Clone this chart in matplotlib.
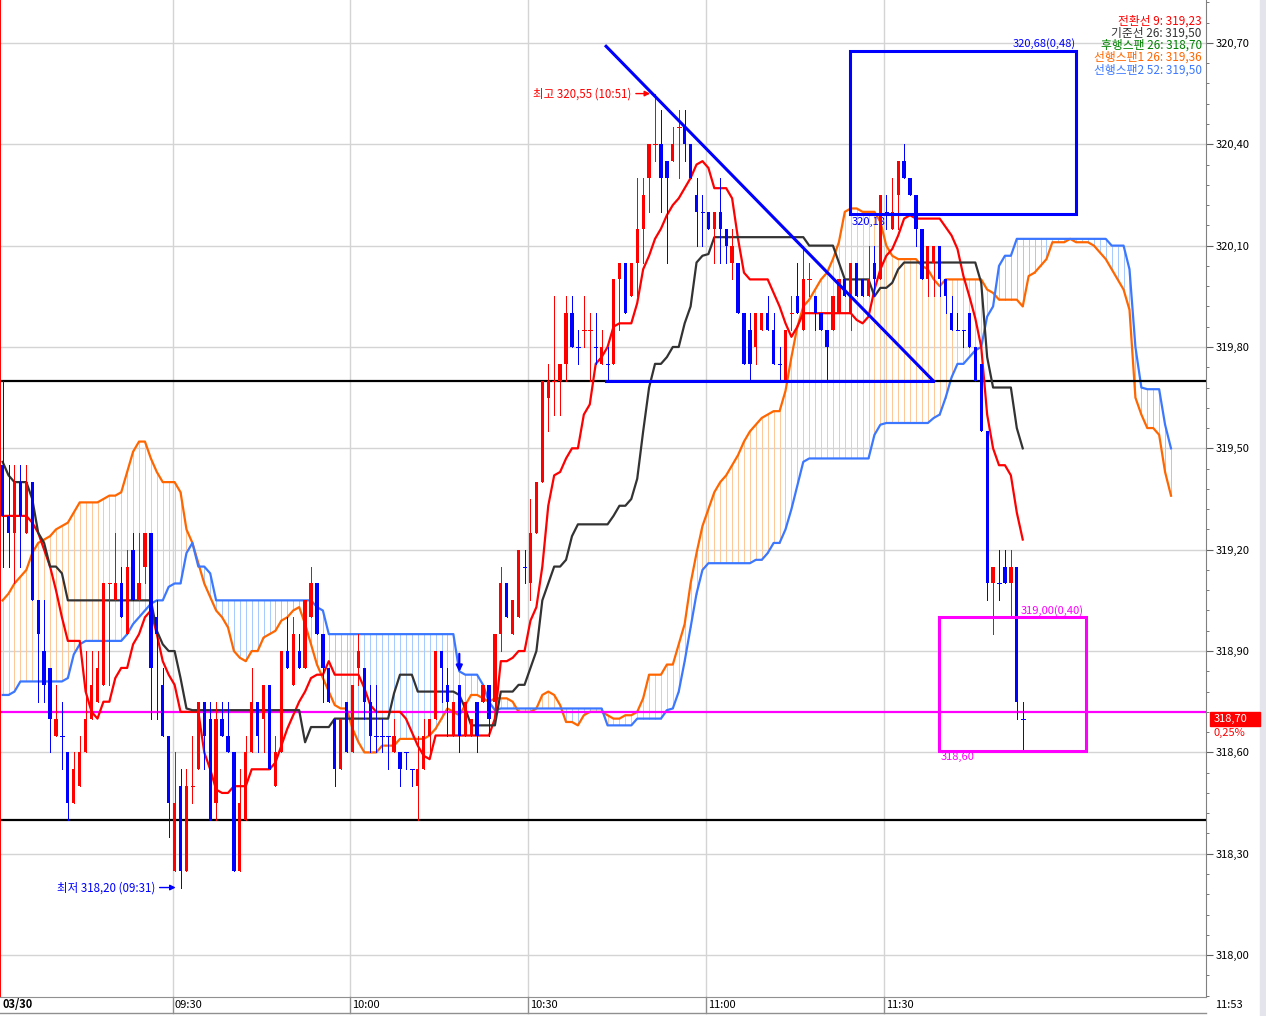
import numpy as np
import matplotlib
matplotlib.use("Agg")
import matplotlib.pyplot as plt
from matplotlib.patches import Rectangle
from matplotlib.lines import Line2D
from matplotlib.ticker import FixedLocator, FuncFormatter

plt.rcParams['font.family'] = ['Noto Sans CJK KR', 'DejaVu Sans']

# 1-minute bars, first bar 09:01, last bar 11:53
start_minute = 9 * 60 + 1

opens = [
    319.45, 319.30, 319.25, 319.40, 319.25, 319.40, 319.05, 318.90, 318.85, 318.65,
    318.65, 318.60, 318.45, 318.50, 318.60, 318.70, 318.75, 318.80, 319.10, 319.05,
    319.10, 318.95, 319.20, 319.05, 319.15, 319.25, 319.00, 318.80, 318.65, 318.25,
    318.50, 318.25, 318.50, 318.55, 318.75, 318.70, 318.45, 318.70, 318.65, 318.60,
    318.25, 318.40, 318.60, 318.75, 318.70, 318.80, 318.50, 318.60, 318.90, 318.80,
    318.90, 318.85, 319.00, 319.10, 318.95, 318.85, 318.70, 318.55, 318.75, 318.60,
    318.85, 318.85, 318.75, 318.65, 318.65, 318.65, 318.60, 318.60, 318.60, 318.55,
    318.50, 318.55, 318.65, 318.70, 318.90, 318.80, 318.65, 318.80, 318.65, 318.65,
    318.75, 318.75, 318.80, 318.75, 318.95, 319.10, 318.95, 319.00, 319.15, 319.10,
    319.25, 319.40, 319.65, 319.70, 319.70, 319.75, 319.90, 319.80, 319.85, 319.85,
    319.80, 319.75, 319.75, 319.75, 320.00, 320.05, 319.95, 320.05, 320.15, 320.30,
    320.40, 320.40, 320.35, 320.35, 320.45, 320.45, 320.40, 320.25, 320.20, 320.20,
    320.15, 320.20, 320.15, 320.05, 320.05, 319.90, 319.85, 319.80, 319.85, 319.90,
    319.85, 319.75, 319.70, 319.90, 319.95, 319.85, 320.00, 319.95, 319.90, 319.85,
    319.85, 319.90, 320.00, 319.90, 320.05, 320.00, 319.95, 320.05, 320.00, 320.20,
    320.15, 320.25, 320.35, 320.30, 320.25, 320.15, 320.00, 320.05, 320.10, 320.00,
    319.90, 319.85, 319.85, 319.90, 319.80, 319.75, 319.55, 319.10, 319.10, 319.15,
    319.10, 319.15, 318.70]
highs = [
    319.70, 319.45, 319.45, 319.45, 319.45, 319.40, 319.05, 319.05, 318.85, 318.80,
    318.75, 318.60, 318.60, 318.65, 318.90, 318.90, 318.90, 319.10, 319.10, 319.25,
    319.15, 319.20, 319.25, 319.25, 319.25, 319.25, 319.05, 318.85, 318.65, 318.60,
    318.55, 318.55, 318.65, 318.75, 318.75, 318.75, 318.75, 318.75, 318.75, 318.60,
    318.55, 318.65, 318.85, 318.75, 318.80, 318.80, 318.65, 318.90, 319.00, 319.00,
    318.95, 319.05, 319.15, 319.10, 318.95, 318.85, 318.70, 318.70, 318.75, 318.80,
    318.95, 318.85, 318.80, 318.80, 318.70, 318.65, 318.70, 318.60, 318.60, 318.55,
    318.65, 318.70, 318.70, 318.90, 318.90, 318.85, 318.75, 318.80, 318.75, 318.70,
    318.75, 318.80, 318.80, 318.95, 319.15, 319.10, 319.05, 319.20, 319.20, 319.35,
    319.40, 319.70, 319.75, 319.95, 319.75, 319.95, 319.95, 319.85, 319.95, 319.90,
    319.90, 319.85, 319.80, 320.00, 320.05, 320.05, 320.05, 320.30, 320.30, 320.40,
    320.55, 320.50, 320.35, 320.45, 320.50, 320.50, 320.40, 320.30, 320.25, 320.20,
    320.20, 320.30, 320.15, 320.15, 320.05, 319.90, 319.90, 319.90, 319.90, 319.95,
    319.90, 319.80, 319.85, 319.95, 320.05, 320.10, 320.05, 319.95, 319.90, 319.85,
    319.95, 320.00, 320.00, 320.05, 320.05, 320.00, 320.10, 320.10, 320.25, 320.25,
    320.30, 320.35, 320.40, 320.30, 320.25, 320.15, 320.10, 320.10, 320.10, 320.00,
    319.95, 319.90, 319.85, 319.90, 319.80, 319.75, 319.55, 319.15, 319.20, 319.20,
    319.20, 319.15, 318.75]
lows = [
    319.15, 319.15, 319.10, 319.15, 319.25, 319.05, 318.75, 318.75, 318.60, 318.65,
    318.55, 318.40, 318.45, 318.50, 318.60, 318.70, 318.75, 318.80, 318.80, 319.05,
    319.00, 318.95, 319.05, 319.05, 319.10, 318.70, 318.70, 318.65, 318.35, 318.25,
    318.20, 318.25, 318.45, 318.55, 318.55, 318.40, 318.40, 318.65, 318.60, 318.25,
    318.25, 318.40, 318.60, 318.60, 318.60, 318.55, 318.50, 318.60, 318.85, 318.80,
    318.85, 318.85, 319.00, 318.95, 318.75, 318.75, 318.50, 318.55, 318.60, 318.60,
    318.80, 318.70, 318.60, 318.60, 318.60, 318.55, 318.60, 318.50, 318.55, 318.50,
    318.40, 318.55, 318.60, 318.70, 318.75, 318.65, 318.65, 318.60, 318.65, 318.65,
    318.60, 318.75, 318.65, 318.70, 318.90, 319.00, 318.95, 319.00, 319.10, 319.05,
    319.25, 319.40, 319.55, 319.60, 319.60, 319.70, 319.80, 319.75, 319.80, 319.70,
    319.75, 319.75, 319.70, 319.75, 319.85, 319.90, 319.95, 319.95, 320.05, 320.20,
    320.35, 320.20, 320.05, 320.35, 320.30, 320.35, 320.30, 320.10, 320.10, 320.15,
    320.05, 320.05, 320.05, 320.00, 319.90, 319.75, 319.70, 319.75, 319.85, 319.85,
    319.75, 319.70, 319.70, 319.85, 319.90, 319.85, 319.95, 319.85, 319.85, 319.70,
    319.85, 319.90, 319.95, 319.85, 319.95, 319.95, 319.95, 319.95, 320.00, 320.15,
    320.15, 320.15, 320.30, 320.25, 320.10, 320.00, 319.95, 319.95, 319.95, 319.90,
    319.85, 319.85, 319.80, 319.80, 319.70, 319.55, 319.05, 318.95, 319.05, 319.10,
    319.00, 318.70, 318.60]
closes = [
    319.30, 319.25, 319.40, 319.30, 319.40, 319.05, 318.95, 318.80, 318.70, 318.70,
    318.65, 318.45, 318.55, 318.60, 318.70, 318.80, 318.85, 319.10, 319.10, 319.10,
    319.00, 319.15, 319.05, 319.10, 319.25, 318.85, 318.95, 318.65, 318.45, 318.45,
    318.25, 318.50, 318.50, 318.75, 318.65, 318.40, 318.70, 318.65, 318.60, 318.25,
    318.45, 318.60, 318.75, 318.65, 318.80, 318.55, 318.60, 318.90, 318.85, 318.95,
    318.85, 319.05, 319.10, 318.95, 318.85, 318.75, 318.55, 318.70, 318.60, 318.80,
    318.90, 318.75, 318.65, 318.65, 318.65, 318.65, 318.65, 318.55, 318.60, 318.55,
    318.55, 318.65, 318.70, 318.90, 318.85, 318.75, 318.75, 318.65, 318.75, 318.70,
    318.65, 318.80, 318.70, 318.95, 319.10, 319.00, 319.05, 319.20, 319.15, 319.25,
    319.40, 319.70, 319.70, 319.70, 319.75, 319.90, 319.80, 319.80, 319.85, 319.85,
    319.80, 319.80, 319.75, 320.00, 320.05, 319.90, 320.05, 320.15, 320.25, 320.40,
    320.40, 320.30, 320.30, 320.40, 320.45, 320.40, 320.30, 320.20, 320.20, 320.15,
    320.20, 320.15, 320.10, 320.10, 319.90, 319.75, 319.75, 319.90, 319.90, 319.85,
    319.75, 319.75, 319.85, 319.90, 319.90, 320.00, 320.00, 319.90, 319.85, 319.80,
    319.95, 320.00, 319.95, 320.05, 319.95, 319.95, 320.00, 320.00, 320.25, 320.20,
    320.20, 320.35, 320.30, 320.25, 320.15, 320.00, 320.10, 320.10, 320.00, 319.95,
    319.85, 319.85, 319.85, 319.80, 319.70, 319.55, 319.10, 319.15, 319.10, 319.10,
    319.15, 318.75, 318.70]
# unchanged-price bars that are drawn red
doji_red = [18, 32, 93, 98, 99, 110, 114, 133, 136]

# 전환선 (conversion line)
tenkan = [
    319.30, 319.30, 319.30, 319.30, 319.30, 319.28, 319.25, 319.20, 319.15, 319.08,
    319.00, 318.93, 318.93, 318.93, 318.78, 318.72, 318.70, 318.75, 318.75, 318.82,
    318.85, 318.85, 318.92, 318.95, 319.00, 319.02, 318.95, 318.87, 318.83, 318.80,
    318.72, 318.72, 318.72, 318.72, 318.60, 318.55, 318.49, 318.48, 318.48, 318.50,
    318.50, 318.50, 318.55, 318.55, 318.55, 318.55, 318.57, 318.62, 318.67, 318.71,
    318.75, 318.78, 318.82, 318.83, 318.83, 318.87, 318.83, 318.83, 318.83, 318.83,
    318.83, 318.79, 318.74, 318.72, 318.72, 318.72, 318.72, 318.72, 318.70, 318.66,
    318.62, 318.59, 318.58, 318.65, 318.65, 318.65, 318.65, 318.65, 318.65, 318.65,
    318.65, 318.65, 318.65, 318.70, 318.87, 318.87, 318.88, 318.90, 318.90, 318.99,
    319.03, 319.15, 319.33, 319.42, 319.43, 319.47, 319.50, 319.50, 319.60, 319.63,
    319.75, 319.77, 319.80, 319.86, 319.87, 319.87, 319.87, 319.93, 320.03, 320.07,
    320.12, 320.15, 320.19, 320.22, 320.24, 320.27, 320.30, 320.34, 320.35, 320.33,
    320.27, 320.27, 320.27, 320.24, 320.12, 320.02, 320.00, 320.00, 320.00, 320.00,
    319.96, 319.92, 319.87, 319.83, 319.86, 319.90, 319.90, 319.90, 319.90, 319.90,
    319.90, 319.90, 319.90, 319.90, 319.88, 319.87, 319.89, 319.97, 320.03, 320.07,
    320.09, 320.13, 320.18, 320.19, 320.18, 320.18, 320.18, 320.18, 320.18, 320.155,
    320.13, 320.09, 320.01, 319.95, 319.885, 319.80, 319.60, 319.50, 319.45, 319.45,
    319.42, 319.31, 319.23]

# 기준선 (base line)
kijun = ([319.46, 319.42, 319.40, 319.40, 319.40, 319.35, 319.25, 319.22, 319.15, 319.15,
          319.13] + [319.05] * 15
         + [318.96, 318.92, 318.90, 318.90, 318.82, 318.73] + [318.725] * 19
         + [318.63] + [318.675] * 4 + [318.70] * 10 + [318.775] + [318.83] * 3
         + [318.78] * 7 + [318.77, 318.73] + [318.68] * 5 + [318.78] * 3 + [318.80] * 2
         + [318.85, 318.90, 319.05, 319.10, 319.15, 319.15, 319.17, 319.24] + [319.275] * 6
         + [319.30, 319.33, 319.33, 319.35, 319.41, 319.55, 319.68, 319.75, 319.75, 319.77,
            319.80, 319.80, 319.87, 319.92, 320.05, 320.07, 320.075] + [320.125] * 16
         + [320.10] * 5 + [320.05] + [320.00] * 5 + [319.95, 319.975, 319.975, 319.99, 320.03]
         + [320.05] * 13 + [319.99, 319.77] + [319.68] * 4 + [319.56, 319.50])

# 선행스팬1 / 선행스팬2, already shifted forward (index 0 = first bar on screen)
span1 = [
    319.05, 319.07, 319.10, 319.12, 319.14, 319.19, 319.22, 319.23, 319.24, 319.26,
    319.27, 319.28, 319.31, 319.34, 319.34, 319.34, 319.34, 319.35, 319.36, 319.36,
    319.37, 319.43, 319.49, 319.52, 319.52, 319.47, 319.43, 319.40, 319.40, 319.40,
    319.37, 319.26, 319.22, 319.16, 319.10, 319.06, 319.02, 319.00, 318.97, 318.90,
    318.88, 318.87, 318.90, 318.90, 318.94, 318.95, 318.96, 318.99, 319.00, 319.02,
    319.03, 318.98, 318.92, 318.86, 318.82, 318.78, 318.74, 318.73, 318.73, 318.67,
    318.63, 318.60, 318.60, 318.60, 318.62, 318.62, 318.62, 318.64, 318.64, 318.64,
    318.64, 318.64, 318.65, 318.67, 318.70, 318.73, 318.72, 318.71, 318.74, 318.77,
    318.77, 318.76, 318.75, 318.76, 318.76, 318.76, 318.75, 318.72, 318.72, 318.72,
    318.73, 318.77, 318.78, 318.77, 318.74, 318.69, 318.69, 318.68, 318.71, 318.72,
    318.72, 318.72, 318.71, 318.70, 318.70, 318.71, 318.71, 318.72, 318.76, 318.83,
    318.83, 318.83, 318.86, 318.86, 318.92, 318.98, 319.10, 319.19, 319.27, 319.32,
    319.37, 319.40, 319.42, 319.45, 319.48, 319.52, 319.55, 319.57, 319.59, 319.60,
    319.61, 319.61, 319.67, 319.77, 319.86, 319.92, 319.94, 319.97, 320.00, 320.02,
    320.06, 320.11, 320.20, 320.21, 320.21, 320.20, 320.20, 320.20, 320.17, 320.10,
    320.07, 320.06, 320.06, 320.06, 320.06, 320.04, 320.03, 320.00, 319.98, 320.00,
    320.00, 320.00, 320.00, 320.00, 320.00, 320.00, 319.97, 319.96, 319.94, 319.94,
    319.94, 319.94, 319.92, 320.01, 320.02, 320.04, 320.06, 320.11, 320.11, 320.11,
    320.12, 320.11, 320.11, 320.11, 320.10, 320.08, 320.06, 320.03, 320.00, 319.97,
    319.91, 319.65, 319.60, 319.56, 319.56, 319.54, 319.43, 319.36]
span2 = ([318.77, 318.77, 318.78] + [318.81] * 8 + [318.82, 318.89, 318.92] + [318.93] * 7
         + [318.95, 318.98, 319.00, 319.02, 319.04, 319.05, 319.05, 319.09, 319.10, 319.10,
            319.19, 319.22, 319.15, 319.15, 319.13] + [319.05] * 17 + [319.03, 319.02]
         + [318.95] * 22 + [318.84, 318.83, 318.83, 318.83, 318.80, 318.75, 318.725]
         + [318.73] * 18 + [318.68] * 5 + [318.70] * 5
         + [318.725, 318.73, 318.78, 318.87, 318.97, 319.07, 319.14] + [319.16] * 8
         + [319.17, 319.17, 319.19, 319.22, 319.22, 319.26, 319.32, 319.39, 319.46]
         + [319.47] * 11 + [319.54, 319.57] + [319.575] * 8
         + [319.59, 319.60, 319.65, 319.71, 319.75, 319.75, 319.77, 319.79, 319.80, 319.89,
            319.92, 320.04, 320.07, 320.07] + [320.12] * 16 + [320.10] * 3
         + [320.03, 319.80, 319.68] + [319.675] * 3 + [319.57, 319.50])

legend_labels = ["전환선 9: 319,23", "기준선 26: 319,50", "후행스팬 26: 318,70",
                 "선행스팬1 26: 319,36", "선행스팬2 52: 319,50"]
legend_colors = ["#FF0000", "#333333", "#008000", "#FF6600", "#3C78FF"]

grid_times = ["09:30", "10:00", "10:30", "11:00", "11:30"]
last_time = "11:53"
h_levels = [319.70, 318.40]
pink_level = 318.72
last_price = 318.70

# user drawings (bar position, price)
trend_line = [(101.75, 320.69), (156.9, 319.70)]
blue_box = (142.9, 320.195, 181.0, 320.675)
pink_box = (157.9, 318.605, 182.7, 319.00)


def bar_at(hhmm):
    h, m = map(int, hhmm.split(':'))
    return h * 60 + m - start_minute


def price_fmt(v, pos=None):
    return f"{v:.2f}".replace('.', ',')


RED = "#FF0000"
BLUE = "#0000FF"

fig = plt.figure(figsize=(12.66, 10.16), dpi=100)
ax = fig.add_axes([0, 19 / 1016, 1206 / 1266, 997 / 1016])
ax.set_xlim(-0.44, 202.9)
ax.set_ylim(317.876, 320.827)

# grid
price_ticks = np.round(np.arange(318.0, 320.71, 0.3), 2)
grid_x = [bar_at(t) - 0.35 for t in grid_times]
for p in price_ticks:
    ax.axhline(p, color="#D4D4D4", lw=1, zorder=0)
for gx in grid_x:
    ax.axvline(gx, color="#D4D4D4", lw=1, zorder=0)

# cloud hatch + spans
s1 = np.array(span1)
s2 = np.array(span2)
sx = np.arange(len(s1))
hatch_colors = np.where(s1 >= s2, "#FFC899", "#A6CCFF")
ax.vlines(sx, np.minimum(s1, s2), np.maximum(s1, s2), colors=hatch_colors, lw=0.6,
          antialiased=False, zorder=1)
ax.plot(sx, s1, color="#FF6600", lw=1.6, zorder=2)
ax.plot(np.arange(len(s2)), s2, color="#3C78FF", lw=1.6, zorder=2)

# horizontal reference lines
for lv in h_levels:
    ax.axhline(lv, color="black", lw=1.6, zorder=2.6)
ax.axhline(pink_level, color="#FF00FF", lw=1.6, zorder=2.6)

# conversion / base lines
ax.plot(np.arange(len(tenkan)), tenkan, color=RED, lw=1.6, zorder=2.8)
ax.plot(np.arange(len(kijun)), kijun, color="#333333", lw=1.6, zorder=2.8)

# candles
o = np.array(opens)
h = np.array(highs)
l = np.array(lows)
c = np.array(closes)
idx = np.arange(len(o))
flat = np.isclose(o, c)
cols = np.where(c > o, RED, BLUE).astype(object)
for i in np.where(flat)[0]:
    cols[i] = RED if i in doji_red else BLUE
ax.vlines(idx, l, h, colors=list(cols), lw=0.6, antialiased=False, zorder=3)
body = ~flat
ax.bar(idx[body], np.abs(c - o)[body], bottom=np.minimum(o, c)[body], width=0.55,
       color=list(cols[body]), linewidth=0, zorder=3)
ax.hlines(c[flat], idx[flat] - 0.3, idx[flat] + 0.3, colors=list(cols[flat]), lw=0.6,
          antialiased=False, zorder=3)

# drawings
(tx0, ty0), (tx1, ty1) = trend_line
ax.plot([tx0, tx1], [ty0, ty1], color=BLUE, lw=2.2, zorder=5)
ax.plot([tx0, tx1], [ty1, ty1], color=BLUE, lw=2.2, zorder=5)
bx0, by0, bx1, by1 = blue_box
ax.add_patch(Rectangle((bx0, by0), bx1 - bx0, by1 - by0, fill=False, ec=BLUE, lw=2.2, zorder=5))
ax.text(bx1, by1 + 0.022, "320,68(0,48)", color=BLUE, fontsize=8, ha="right", va="center", zorder=5)
ax.text(bx0 + 0.3, by0 - 0.025, "320,18", color=BLUE, fontsize=8, ha="left", va="center", zorder=2.9)
px0, py0, px1, py1 = pink_box
ax.add_patch(Rectangle((px0, py0), px1 - px0, py1 - py0, fill=False, ec="#FF00FF", lw=2.2, zorder=5))
ax.text(171.6, py1 + 0.02, "319,00(0,40)", color="#FF00FF", fontsize=8, ha="left", va="center", zorder=5)
ax.text(px0 + 0.3, py0 - 0.02, "318,60", color="#FF00FF", fontsize=8, ha="left", va="center", zorder=5)

# high / low markers
hi_i = int(np.argmax(h))
lo_i = int(np.argmin(l))
ax.text(hi_i - 4.0, h[hi_i], "최고 320,55 (10:51)", color=RED, fontsize=8.3, ha="right", va="center", zorder=5)
ax.annotate("", xy=(hi_i - 0.35, h[hi_i]), xytext=(hi_i - 3.7, h[hi_i]),
            arrowprops=dict(arrowstyle="-|>", color=RED, lw=1, mutation_scale=8), zorder=5)
ax.text(lo_i - 4.3, l[lo_i], "최저 318,20 (09:31)", color=BLUE, fontsize=8.3, ha="right", va="center", zorder=5)
ax.annotate("", xy=(lo_i - 0.35, l[lo_i]), xytext=(lo_i - 4.0, l[lo_i]),
            arrowprops=dict(arrowstyle="-|>", color=BLUE, lw=1, mutation_scale=8), zorder=5)
# signal arrow
ax.annotate("", xy=(77, 318.83), xytext=(77, 318.90),
            arrowprops=dict(arrowstyle="-|>", color=BLUE, lw=1.6, mutation_scale=9), zorder=5)

# day separator
ax.axvline(-0.38, color=RED, lw=1.4, zorder=5)

# legend text
for k, (lab, col) in enumerate(zip(legend_labels, legend_colors)):
    ax.text(0.9965, 1 - (21 + 12.2 * k) / 997, lab, color=col, fontsize=8.5,
            ha="right", va="center", transform=ax.transAxes, zorder=6)

# axes styling
for side in ["top", "left"]:
    ax.spines[side].set_visible(False)
ax.spines["right"].set_color("#808080")
ax.spines["bottom"].set_color("#909090")
ax.yaxis.tick_right()
ax.yaxis.set_major_locator(FixedLocator(price_ticks))
ax.yaxis.set_minor_locator(FixedLocator(np.round(np.arange(317.88, 320.83, 0.06), 2)))
ax.yaxis.set_major_formatter(FuncFormatter(price_fmt))
ax.tick_params(axis="y", which="major", length=5, color="#606060", labelsize=8, pad=2)
ax.tick_params(axis="y", which="minor", length=2.5, color="#606060")
ax.set_xticks([])

# current price tag
ytr = ax.get_yaxis_transform()
ax.add_patch(Rectangle((1.0035, last_price - 0.021), 0.0415, 0.042, transform=ytr,
                       color=RED, clip_on=False, zorder=6))
ax.text(1.006, last_price, price_fmt(last_price), transform=ytr, color="white",
        fontsize=8, ha="left", va="center", zorder=7)
ax.text(1.006, last_price - 0.042, "0,25%", transform=ytr, color=RED,
        fontsize=8, ha="left", va="center", zorder=7)

# time strip
xtr = ax.get_xaxis_transform()
strip_y = -8 / 997
ax.text(0.0, strip_y, "03/30", transform=xtr, fontsize=8, fontweight="bold",
        ha="left", va="center", clip_on=False)
for gx, t in zip(grid_x, grid_times):
    ax.plot([gx, gx], [0, -16 / 997], transform=xtr, color="#909090", lw=1, clip_on=False)
    ax.text(gx + 0.25, strip_y, t, transform=xtr, fontsize=8, ha="left", va="center", clip_on=False)
fig.add_artist(Line2D([0, 1206 / 1266], [3 / 1016, 3 / 1016], color="#909090", lw=1))
fig.text(1215 / 1266, 11 / 1016, last_time, fontsize=8, ha="left", va="center")
fig.add_artist(Rectangle((1260 / 1266, 0), 6 / 1266, 1, transform=fig.transFigure,
                         color="#E4E4EC", zorder=0))

fig.savefig("out.png", dpi=100)
